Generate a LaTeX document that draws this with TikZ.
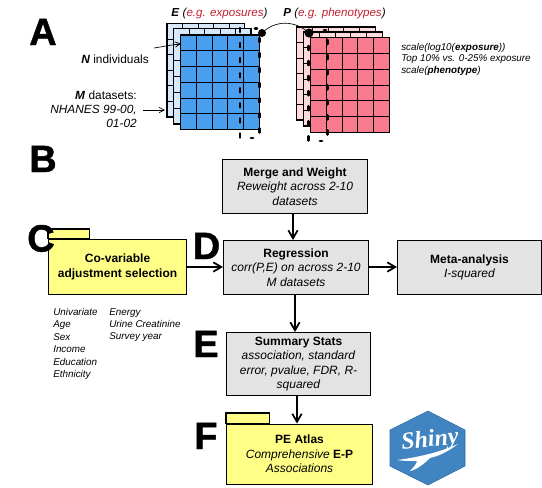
\documentclass[tikz,border=0pt]{standalone}
\usepackage{fontspec}
\setmainfont{Liberation Sans}
\newfontfamily\shinyfont{Liberation Serif}
\newfontfamily\heavyfont[FakeBold=1.2]{Liberation Sans Bold}
\usetikzlibrary{arrows.meta}
\definecolor{eblue}{HTML}{4A9EEE}
\definecolor{epale}{HTML}{D6E8FA}
\definecolor{ppink}{HTML}{F97B8E}
\definecolor{ppale}{HTML}{FDDADC}
\definecolor{fyellow}{HTML}{FFFF88}
\definecolor{bgray}{HTML}{E3E3E3}
\definecolor{tred}{HTML}{C0202E}
\definecolor{shinyblue}{HTML}{4084C2}
\tikzset{
  flow/.style={draw=black,line width=1.3pt,-{Straight Barb[length=6pt,width=7pt,line width=1.3pt]}},
  thinarrow/.style={draw=black,line width=.5pt,-{Straight Barb[length=4pt,width=4pt]}},
  graybox/.style={draw=black,line width=.8pt,fill=bgray,align=center,font=\fontsize{9}{10.8}\selectfont,inner sep=0pt},
  folder/.style={draw=black,line width=.8pt,fill=fyellow,align=center,font=\fontsize{9}{10.8}\selectfont,inner sep=0pt},
  tabshape/.style={draw=black,line width=.8pt,fill=fyellow},
  letter/.style={font=\fontsize{28.5}{30}\heavyfont\selectfont,inner sep=0pt},
  smalltxt/.style={font=\fontsize{8.9}{10.5}\selectfont,inner sep=0pt},
  tinytxt/.style={font=\fontsize{7.4}{8.6}\itshape\selectfont,inner sep=0pt,align=left},
  covtxt/.style={font=\fontsize{7.4}{9.3}\itshape\selectfont,inner sep=0pt,align=left},
  dashline/.style={draw=black,line width=2.1pt,dash pattern=on 3pt off 8.3pt,line cap=round},
}
\newcommand{\gridlayer}[5]{%
  \fill[#5] (#1,#2) rectangle (#3,#4);
  \foreach \i in {1,...,4} \draw[line width=.7pt] ({#1+(#3-#1)*\i/5},#2) -- ({#1+(#3-#1)*\i/5},#4);
  \foreach \i in {1,...,5} \draw[line width=.7pt] (#1,{#2+(#4-#2)*\i/6}) -- (#3,{#2+(#4-#2)*\i/6});
  \draw[line width=.8pt] (#1,#2) rectangle (#3,#4);
}
\begin{document}
\begin{tikzpicture}[x=.75pt,y=-.75pt]
\useasboundingbox (0,0) rectangle (542,487);

% A: matrices
\gridlayer{167}{23.5}{244.5}{117}{epale}
\gridlayer{173.5}{28.5}{251}{124}{epale}
\gridlayer{180.5}{35}{259.5}{129.5}{eblue}
\gridlayer{296.5}{27}{375.5}{120}{ppale}
\gridlayer{303.5}{32}{382.5}{126}{ppale}
\gridlayer{310.5}{37.5}{389.5}{132.5}{ppink}

\coordinate (edot) at (262,33);
\coordinate (pdot) at (309,33);
\draw[dashline] (240,28) -- (240,138);
\draw[dashline] (259.5,38) -- (259.5,133);
\draw[dashline] (255,28.5) -- (257,28.5);
\draw[dashline] (251,138) -- (253,138);
\draw[dashline] (308.5,46) -- (308.5,141);
\draw[dashline] (327.5,40) -- (327.5,136);
\draw[dashline] (324,30) -- (326,30);
\draw[dashline] (320,141) -- (322,141);
\fill (edot) circle (3pt);
\fill (pdot) circle (3.4pt);
\draw[line width=.5pt] (edot) .. controls (275,20) and (295,20) .. (pdot);

\node[font=\fontsize{8.7}{11}\selectfont,inner sep=0pt] (etitle) at (219.5,13) {\textbf{\textit{E}} \textit{(\textcolor{tred}{e.g. exposures})}};
\node[font=\fontsize{8.7}{11}\selectfont,inner sep=0pt] (ptitle) at (334.5,13) {\textbf{\textit{P}} \textit{(\textcolor{tred}{e.g. phenotypes})}};

\node[smalltxt,anchor=east] (nind) at (149,59) {\textbf{\textit{N}} individuals};
\node[smalltxt,anchor=east,align=right] (mdat) at (137,109) {\textbf{\textit{M}} datasets:\\\textit{NHANES 99-00,}\\\textit{01-02}};
\coordinate (ntip) at (181,43.5);
\coordinate (mtip) at (165,110);
\coordinate (nfrom) at (154,48);
\coordinate (mfrom) at (143,110);
\draw[thinarrow] (nfrom) -- (ntip);
\draw[thinarrow] (mfrom) -- (mtip);

\node[tinytxt,anchor=north west] (scale) at (401,43) {scale(log10(\textbf{exposure}))\\Top 10\% vs. 0-25\% exposure\\scale(\textbf{phenotype})};

% Boxes
\node[graybox,anchor=north west,minimum width=108.75pt,minimum height=40.5pt] (merge) at (222,159) {\textbf{Merge and Weight}\\\textit{Reweight across 2-10}\\\textit{datasets}};
\node[graybox,anchor=north west,minimum width=108.75pt,minimum height=40.5pt] (reg) at (223,240) {\textbf{Regression}\\\textit{corr(P,E) on across 2-10}\\\textit{M datasets}};
\node[graybox,anchor=north west,minimum width=108pt,minimum height=40.5pt] (meta) at (397,240) {\textbf{Meta-analysis}\\\textit{I-squared}};
\node[graybox,anchor=north west,minimum width=108pt,minimum height=47.25pt] (summary) at (226,332) {\textbf{Summary Stats}\\\textit{association, standard}\\\textit{error, pvalue, FDR, R-}\\\textit{squared}};

% Folders
\draw[tabshape] (48,229) rectangle (89.5,238.5);
\node[folder,anchor=north west,minimum width=103.5pt,minimum height=41.75pt,font=\fontsize{9}{11.7}\bfseries\selectfont] (covar) at (48,238.5) {Co-variable\\adjustment selection};
\draw[tabshape] (226,413) rectangle (269.5,423.5);
\node[folder,anchor=north west,minimum width=109.5pt,minimum height=45pt] (atlas) at (226,423.5) {\textbf{PE Atlas}\\\textit{Comprehensive} \textbf{E-P}\\\textit{Associations}};

% Connectors
\coordinate (regin) at (223,267);
\coordinate (covout) at (186,267);
\coordinate (regout) at (368,267);
\coordinate (metain) at (397,267);
\draw[flow] (merge.south -| 293,0) -- (reg.north -| 293,0);
\draw[flow] (covout) -- (regin);
\draw[flow] (regout) -- (metain);
\draw[flow] (reg.south -| 295,0) -- (summary.north -| 295,0);
\draw[flow] (summary.south -| 297,0) -- (atlas.north -| 297,0);

% Letters
\node[letter,anchor=base west] (la) at (29,45) {A};
\node[letter,anchor=base west] (lb) at (29,172) {B};
\node[letter,anchor=base west] (lc) at (27,251.5) {C};
\node[letter,anchor=base west] (ld) at (192.5,259) {D};
\node[letter,anchor=base west] (le) at (193,357) {E};
\node[letter,anchor=base west] (lf) at (194,449) {F};

% Covariates
\node[covtxt,anchor=north west] (cov1) at (53,308) {Univariate\\Age\\Sex\\Income\\Education\\Ethnicity};
\node[covtxt,anchor=north west] (cov2) at (109,308) {Energy\\Urine Creatinine\\Survey year};

% Shiny hex
\filldraw[draw=shinyblue!80!black,line width=.4pt,fill=shinyblue] (428,411) -- (465,430) -- (465,466) -- (428,485) -- (390,466) -- (390,430) -- cycle;
\fill[white] (397,460) .. controls (420,457) and (440,452) .. (458,444) .. controls (446,453) and (438,456) .. (430,458) .. controls (424,464) and (416,470) .. (410,471) .. controls (414,467) and (417,463) .. (417,461) .. controls (410,461) and (403,461) .. (397,460) -- cycle;
\node[text=white,rotate=6,font=\fontsize{18}{18}\bfseries\itshape\shinyfont\selectfont,inner sep=0pt] (shiny) at (430,441) {Shiny};
\end{tikzpicture}
\end{document}
